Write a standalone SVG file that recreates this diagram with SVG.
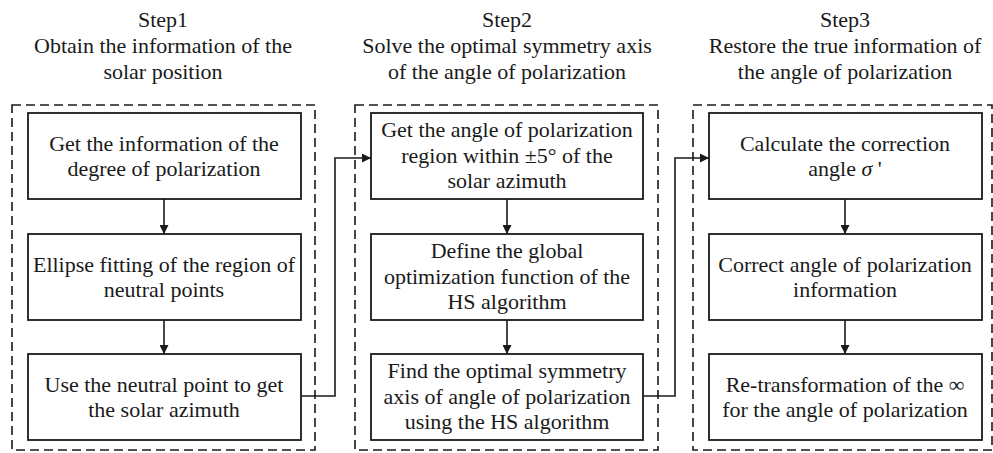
<svg xmlns="http://www.w3.org/2000/svg" width="993" height="453" viewBox="0 0 993 453">
<style>
text{font-family:'Liberation Serif','Times New Roman',serif;font-size:22px;fill:#1a1a1a;text-anchor:middle}
.box{fill:#fff;stroke:#1a1a1a;stroke-width:1.8}
.dash{fill:none;stroke:#1a1a1a;stroke-width:1.6;stroke-dasharray:9 5}
.conn{fill:none;stroke:#1a1a1a;stroke-width:1.6}
</style>
<defs>
<marker id="ah" viewBox="0 0 10 10" refX="10" refY="5" markerWidth="9" markerHeight="9" markerUnits="userSpaceOnUse" orient="auto">
<path d="M0,0 L10,5 L0,10 Z" fill="#1a1a1a"/>
</marker>
</defs>
<rect x="0" y="0" width="993" height="453" fill="#fff"/>

<g id="titles">
<text x="163" y="27">Step1</text>
<text x="163" y="53">Obtain the information of the</text>
<text x="163" y="79">solar position</text>
<text x="507" y="27">Step2</text>
<text x="507" y="53">Solve the optimal symmetry axis</text>
<text x="507" y="79">of the angle of polarization</text>
<text x="845" y="27">Step3</text>
<text x="845" y="53">Restore the true information of</text>
<text x="845" y="79">the angle of polarization</text>
</g>

<g id="groups">
<rect class="dash" x="12" y="105" width="303" height="345"/>
<rect class="dash" x="355" y="105" width="303" height="345"/>
<rect class="dash" x="693" y="105" width="299" height="345"/>
</g>

<g id="connectors">
<line class="conn" x1="164" y1="199" x2="164" y2="234" marker-end="url(#ah)"/>
<line class="conn" x1="164" y1="320" x2="164" y2="354" marker-end="url(#ah)"/>
<line class="conn" x1="507" y1="199" x2="507" y2="234" marker-end="url(#ah)"/>
<line class="conn" x1="507" y1="320" x2="507" y2="354" marker-end="url(#ah)"/>
<line class="conn" x1="845" y1="199" x2="845" y2="234" marker-end="url(#ah)"/>
<line class="conn" x1="845" y1="320" x2="845" y2="354" marker-end="url(#ah)"/>
<path class="conn" d="M301,396 H335 V158 H371" marker-end="url(#ah)"/>
<path class="conn" d="M643,396 H675 V158 H709" marker-end="url(#ah)"/>
</g>

<g id="n1a"><rect class="box" x="28" y="113" width="273" height="86"/>
<text x="164" y="151">Get the information of the</text><text x="164" y="176">degree of polarization</text></g>
<g id="n1b"><rect class="box" x="28" y="234" width="273" height="86"/>
<text x="164" y="272">Ellipse fitting of the region of</text><text x="164" y="297">neutral points</text></g>
<g id="n1c"><rect class="box" x="28" y="354" width="273" height="86"/>
<text x="164" y="392">Use the neutral point to get</text><text x="164" y="417">the solar azimuth</text></g>

<g id="n2a"><rect class="box" x="371" y="113" width="272" height="86"/>
<text x="507" y="137">Get the angle of polarization</text><text x="507" y="163">region within ±5° of the</text><text x="507" y="188">solar azimuth</text></g>
<g id="n2b"><rect class="box" x="371" y="234" width="272" height="86"/>
<text x="507" y="258">Define the global</text><text x="507" y="284">optimization function of the</text><text x="507" y="309">HS algorithm</text></g>
<g id="n2c"><rect class="box" x="371" y="354" width="272" height="86"/>
<text x="507" y="378">Find the optimal symmetry</text><text x="507" y="404">axis of angle of polarization</text><text x="507" y="429">using the HS algorithm</text></g>

<g id="n3a"><rect class="box" x="709" y="113" width="273" height="86"/>
<text x="845" y="151">Calculate the correction</text><text x="845" y="176">angle <tspan font-style="italic">σ</tspan> '</text></g>
<g id="n3b"><rect class="box" x="709" y="234" width="273" height="86"/>
<text x="845" y="272">Correct angle of polarization</text><text x="845" y="297">information</text></g>
<g id="n3c"><rect class="box" x="709" y="354" width="273" height="86"/>
<text x="845" y="392">Re-transformation of the ∞</text><text x="845" y="417">for the angle of polarization</text></g>
</svg>
